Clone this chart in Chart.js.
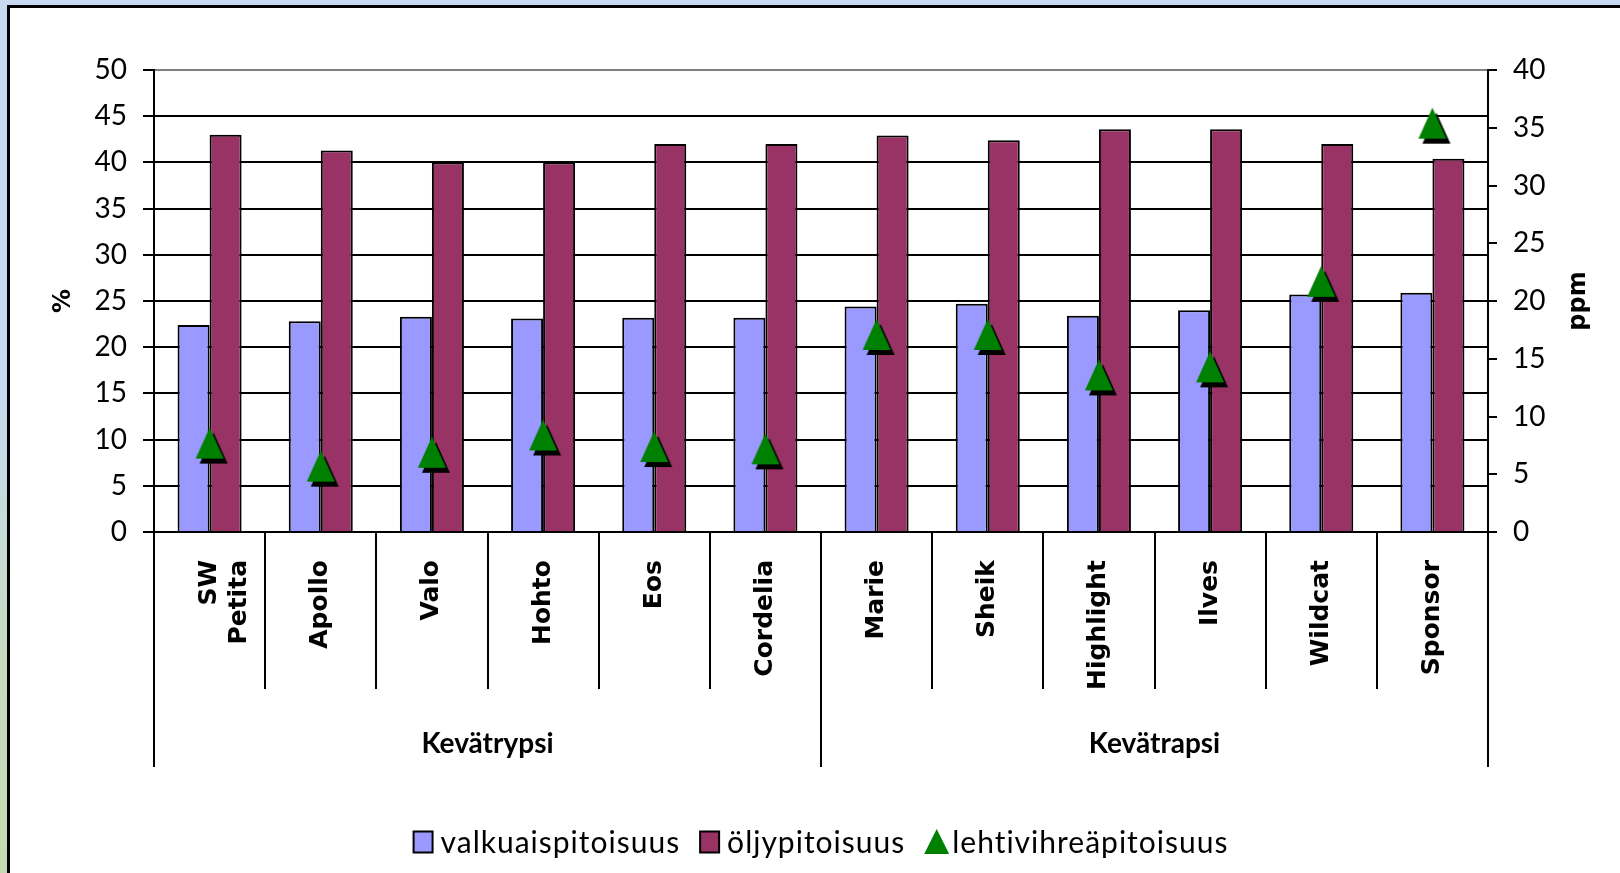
<!DOCTYPE html>
<html><head><meta charset="utf-8">
<script src="https://cdn.jsdelivr.net/npm/chart.js@4"></script>
<style>
html,body{margin:0;padding:0;width:1620px;height:873px;overflow:hidden;}
body{position:relative;background:linear-gradient(to bottom,#c6d9f1 0%,#c6d9f1 45%,#c5dcc0 75%,#c3dbb2 100%);}
#panel{position:absolute;left:7px;top:5px;width:1660px;height:920px;background:#fff;border-left:3px solid #000;border-top:3px solid #000;}
#c{position:absolute;left:0;top:0;}
</style></head><body>
<div id="panel"></div>
<canvas id="c" width="1620" height="873"></canvas>
<script>
// ---- data ----
const categories = [["SW","Petita"],"Apollo","Valo","Hohto","Eos","Cordelia","Marie","Sheik","Highlight","Ilves","Wildcat","Sponsor"];
const groups = ["Kevätrypsi","Kevätrapsi"];
const groupSizes = [6,6];
const seriesNames = ["valkuaispitoisuus","öljypitoisuus","lehtivihreäpitoisuus"];
const protein = [22.4,22.8,23.3,23.1,23.2,23.2,24.4,24.7,23.4,24.0,25.7,25.9];
const oil = [43.0,41.3,40.0,40.0,42.0,42.0,42.9,42.4,43.6,43.6,42.0,40.4];
const chlorophyll = [7.7,5.7,6.9,8.4,7.4,7.2,17.1,17.1,13.6,14.3,21.7,35.4];
const leftTitle = "%";
const rightTitle = "ppm";
const leftMin = 0, leftMax = 50, leftStep = 5;
const rightMin = 0, rightMax = 40, rightStep = 5;

// ---- marker image ----
function makeTriangle(shadow){
  const c = document.createElement('canvas');
  const tw = 28, th = 31, sx = 4, sy = 5;
  c.width = tw + 2*sx + 2; c.height = th + 2*sy + 2;
  const g = c.getContext('2d');
  const cx = c.width/2, cy = c.height/2;
  function tri(dx,dy,col){
    g.fillStyle = col; g.beginPath();
    g.moveTo(cx+dx, cy-th/2+dy);
    g.lineTo(cx+tw/2+dx, cy+th/2+dy);
    g.lineTo(cx-tw/2+dx, cy+th/2+dy);
    g.closePath(); g.fill();
  }
  if (shadow) tri(sx, sy, '#000');
  tri(0, 0, '#008000');
  return c;
}
const triImg = makeTriangle(true);

Chart.defaults.font.family = 'Lato';
Chart.defaults.color = '#000';

const decor = {
  id: 'decor',
  afterDraw(chart){
    const {ctx, chartArea: a, scales: {x, y, y1}} = chart;
    ctx.save();
    // group dividers and labels
    const w = x.getPixelForValue(1) - x.getPixelForValue(0);
    const groupBottom = a.bottom + 235;
    ctx.strokeStyle = '#000'; ctx.lineWidth = 2;
    let start = 0;
    const lines = [Math.round(x.getPixelForValue(0) - w/2)];
    ctx.font = 'bold 28px Lato';
    ctx.fillStyle = '#000';
    ctx.textAlign = 'center'; ctx.textBaseline = 'middle';
    groups.forEach((g, i) => {
      const end = start + groupSizes[i] - 1;
      const cx = (x.getPixelForValue(start) + x.getPixelForValue(end)) / 2;
      ctx.fillText(g, cx, a.bottom + 212);
      lines.push(Math.round(x.getPixelForValue(end) + w/2));
      start = end + 1;
    });
    lines.forEach(px => {
      ctx.beginPath(); ctx.moveTo(px, a.bottom); ctx.lineTo(px, groupBottom); ctx.stroke();
    });
    // axis titles
    ctx.font = 'bold 24px "DejaVu Sans"';
    const midY = (a.top + a.bottom) / 2;
    [[leftTitle, y.left + 64], [rightTitle, y1.right - 41]].forEach(([t, px]) => {
      ctx.save(); ctx.translate(px, midY); ctx.rotate(-Math.PI/2);
      ctx.fillText(t, 0, 0); ctx.restore();
    });
    // legend
    ctx.font = '30px Lato';
    ctx.letterSpacing = '1px';
    ctx.textAlign = 'left'; ctx.textBaseline = 'alphabetic';
    const ds = chart.data.datasets;
    const order = [0, 1, 2];
    const swW = 19, swH = 21, gap1 = 8, gap2 = 20, baseY = 853, midL = 842;
    const widths = order.map(i => ctx.measureText(ds[i].label).width);
    let total = 0;
    order.forEach((i, k) => { total += swW + gap1 + widths[k]; });
    total += gap2 * (order.length - 1);
    let lx = (a.left + a.right) / 2 - total / 2;
    order.forEach((i, k) => {
      const d = ds[i];
      if (d.type === 'line') {
        ctx.fillStyle = '#008000'; ctx.beginPath();
        ctx.moveTo(lx + swW/2 + 2, midL - 13);
        ctx.lineTo(lx + swW + 5, midL + 12);
        ctx.lineTo(lx - 1, midL + 12);
        ctx.closePath(); ctx.fill();
      } else {
        ctx.fillStyle = d.backgroundColor;
        ctx.fillRect(lx, midL - swH/2, swW, swH);
        ctx.strokeStyle = '#000'; ctx.lineWidth = 2;
        ctx.strokeRect(lx, midL - swH/2, swW, swH);
      }
      ctx.fillStyle = '#000';
      ctx.fillText(d.label, lx + swW + gap1, baseY);
      lx += swW + gap1 + widths[k] + gap2;
    });
    ctx.restore();
  }
};

new Chart(document.getElementById('c'), {
  data: {
    labels: categories,
    datasets: [
      { type: 'bar', label: seriesNames[0], data: protein, backgroundColor: '#9999ff', borderColor: '#000', borderWidth: 2, yAxisID: 'y', order: 2, barPercentage: 1, categoryPercentage: 0.576 },
      { type: 'bar', label: seriesNames[1], data: oil, backgroundColor: '#993366', borderColor: '#000', borderWidth: 2, yAxisID: 'y', order: 2, barPercentage: 1, categoryPercentage: 0.576 },
      { type: 'line', label: seriesNames[2], data: chlorophyll, yAxisID: 'y1', showLine: false, pointStyle: triImg, pointRadius: 16, order: 0 }
    ]
  },
  options: {
    responsive: false,
    animation: false,
    layout: { padding: { top: 70, left: 0, right: 0, bottom: 0 } },
    plugins: { legend: { display: false }, tooltip: { enabled: false } },
    scales: {
      x: {
        type: 'category',
        offset: true,
        grid: { offset: true, drawOnChartArea: false, drawTicks: true, tickLength: 157, color: '#000', lineWidth: 2 },
        border: { display: true, color: '#000', width: 2 },
        ticks: { autoSkip: false, minRotation: 90, maxRotation: 90, padding: -129, font: { family: 'DejaVu Sans', weight: 'bold', size: 25 }, color: '#000' },
        afterFit: s => { s.height = 341; }
      },
      y: {
        position: 'left', min: leftMin, max: leftMax,
        ticks: { stepSize: leftStep, padding: 16, font: { size: 28 }, color: '#000' },
        grid: { color: c => (c.tick && c.tick.value === leftMax) ? '#808080' : '#000', tickColor: '#000', lineWidth: 2, tickLength: 11 },
        border: { display: true, color: '#000', width: 2 },
        afterFit: s => { s.width = 154; }
      },
      y1: {
        position: 'right', min: rightMin, max: rightMax,
        ticks: { stepSize: rightStep, padding: 16, font: { size: 28 }, color: '#000' },
        grid: { drawOnChartArea: false, color: '#000', lineWidth: 2, tickLength: 9 },
        border: { display: true, color: '#000', width: 2 },
        afterFit: s => { s.width = 132; }
      }
    }
  },
  plugins: [decor]
});
</script>
</body></html>
